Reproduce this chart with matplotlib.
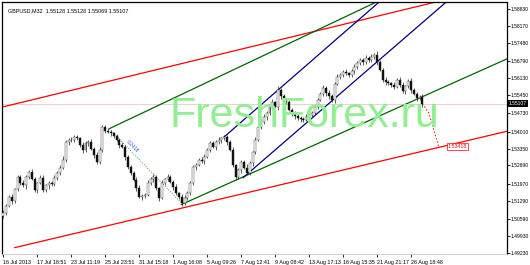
import numpy as np
import matplotlib
matplotlib.use("Agg")
import matplotlib.pyplot as plt
from matplotlib.transforms import blended_transform_factory

plt.rcParams['font.family'] = ['Liberation Sans', 'DejaVu Sans']

# ---------------- data ----------------
closes = [
    1.5083, 1.5110, 1.5146, 1.5130, 1.5175, 1.5224, 1.5200, 1.5190, 1.5225, 1.5244,
    1.5215, 1.5173, 1.5200, 1.5221, 1.5173, 1.5190, 1.5201, 1.5195, 1.5221, 1.5240,
    1.5260, 1.5291, 1.5362, 1.5370, 1.5369, 1.5381, 1.5375, 1.5350, 1.5330, 1.5355,
    1.5362, 1.5335, 1.5311, 1.5283, 1.5330, 1.5420, 1.5405, 1.5401, 1.5395, 1.5385,
    1.5370, 1.5350, 1.5342, 1.5300, 1.5264, 1.5240, 1.5213, 1.5180, 1.5146, 1.5150,
    1.5154, 1.5201, 1.5215, 1.5224, 1.5180, 1.5142, 1.5201, 1.5215, 1.5224, 1.5205,
    1.5185, 1.5160, 1.5146, 1.5122, 1.5140, 1.5162, 1.5200, 1.5264, 1.5270, 1.5290,
    1.5285, 1.5303, 1.5330, 1.5358, 1.5342, 1.5360, 1.5369, 1.5375, 1.5381, 1.5360,
    1.5330, 1.5270, 1.5224, 1.5250, 1.5283, 1.5260, 1.5240, 1.5279, 1.5320, 1.5369,
    1.5420, 1.5440, 1.5460, 1.5475, 1.5500, 1.5518, 1.5499, 1.5565, 1.5540, 1.5525,
    1.5518, 1.5487, 1.5470, 1.5462, 1.5456, 1.5450, 1.5448, 1.5460, 1.5467, 1.5475,
    1.5500, 1.5526, 1.5550, 1.5573, 1.5555, 1.5540, 1.5526, 1.5590, 1.5616, 1.5625,
    1.5636, 1.5630, 1.5624, 1.5640, 1.5656, 1.5670, 1.5683, 1.5675, 1.5690, 1.5683,
    1.5695, 1.5703, 1.5675, 1.5644, 1.5605, 1.5598, 1.5593, 1.5585, 1.5577, 1.5605,
    1.5585, 1.5560, 1.5580, 1.5600, 1.5565, 1.5550, 1.5534, 1.5538, 1.5511,
]
first_open = 1.5070

# wick lengths in pips
wick_up = [10, 6, 8, 12, 5, 9, 7, 11, 6, 8,
           10, 7, 5, 9, 12, 6, 8, 7, 10, 5,
           9, 14, 8, 6, 11, 7, 9, 5, 12, 8,
           6, 10, 7, 9, 13, 8, 6, 11, 7, 5,
           9, 8, 12, 6, 10, 7, 5, 9, 11, 8,
           6, 10, 7, 12, 8, 5, 9, 6, 11, 7,
           8, 10, 6, 9, 12, 7, 8, 5, 10, 6,
           11, 9, 7, 8, 6, 10, 12, 5, 9, 7,
           8, 11, 6, 10, 7, 9, 13, 8, 6, 10,
           7, 12, 9, 6, 8, 11, 5, 14, 7, 9,
           10, 6, 8, 12, 7, 5, 9, 11, 6, 8,
           10, 7, 9, 12, 6, 8, 11, 7, 10, 5,
           9, 13, 6, 8, 11, 7, 9, 6, 12, 8,
           10, 7, 14, 9, 6, 11, 8, 5, 10, 7,
           9, 12, 6, 8, 11, 7, 9, 6, 10]
wick_dn = [7, 9, 5, 11, 8, 6, 10, 7, 12, 9,
           5, 8, 11, 6, 9, 7, 13, 8, 6, 10,
           8, 6, 9, 12, 7, 10, 5, 8, 11, 7,
           9, 6, 12, 8, 7, 10, 9, 6, 11, 8,
           7, 12, 5, 9, 8, 10, 6, 11, 7, 13,
           9, 6, 8, 10, 7, 12, 5, 9, 8, 6,
           11, 7, 10, 14, 8, 6, 9, 7, 12, 5,
           8, 10, 7, 9, 6, 11, 8, 12, 7, 10,
           6, 9, 13, 8, 10, 7, 6, 9, 11, 8,
           5, 10, 7, 12, 8, 9, 6, 11, 10, 7,
           8, 6, 9, 12, 7, 10, 8, 5, 11, 9,
           7, 10, 6, 8, 12, 9, 7, 11, 6, 8,
           10, 5, 9, 7, 11, 8, 6, 12, 9, 10,
           7, 8, 11, 6, 9, 12, 7, 10, 8, 6,
           9, 7, 12, 8, 10, 6, 11, 9, 13]

# trendline anchors (bar index, price)
red_upper = [(0.0, 1.5499), (150.0, 1.5903)]
red_lower = [(4.0, 1.4946), (165.0, 1.5369)]
green_upper = [(37.4, 1.5413), (131.7, 1.5910)]
green_lower = [(62.8, 1.5115), (165.2, 1.5624)]
blue_upper = [(78.0, 1.5381), (132.7, 1.5910)]
blue_lower = [(84.7, 1.5221), (156.4, 1.5910)]
green_dotted = [(37.4, 1.5413), (62.8, 1.5122)]

forecast_x = [148, 150.3, 152.0, 153.8]
forecast_y = [1.5511, 1.5475, 1.5409, 1.5342]
forecast_label = "1.53418"

current_price = 1.55107
title_text = "GBPUSD,M32  1.55128 1.55128 1.55069 1.55107"

ytick_values = [1.58830, 1.58170, 1.57480, 1.56790, 1.56130, 1.55450, 1.54730,
                1.54010, 1.53350, 1.52690, 1.51970, 1.51290, 1.50590, 1.49930, 1.49230]
xtick_labels = ["16 Jul 2013", "17 Jul 18:51", "23 Jul 11:19", "25 Jul 23:51",
                "31 Jul 15:18", "1 Aug 16:08", "5 Aug 09:26", "7 Aug 12:41",
                "9 Aug 08:42", "13 Aug 17:13", "16 Aug 15:35", "21 Aug 21:17",
                "26 Aug 18:48"]
bars_per_label = 12

# ---------------- figure ----------------
W, H = 530, 265
fig = plt.figure(figsize=(W / 100, H / 100), dpi=100)
fig.patch.set_facecolor('white')
ax = fig.add_axes([2 / W, 11 / H, 505 / W, 252 / H])
ax.set_facecolor('white')

XMAX = 177.9
ax.set_xlim(-0.5, XMAX)
ax.set_ylim(1.4921, 1.59104)

n = len(closes)
x = np.arange(n)
c = np.array(closes)
o = np.concatenate([[first_open], c[:-1]])
hi = np.maximum(o, c) + np.array(wick_up) * 0.0001
lo = np.minimum(o, c) - np.array(wick_dn) * 0.0001

# watermark
fig.text(304 / W, 1 - 116 / H, "FreshForex.ru", fontsize=31, color='#93ee93',
         ha='center', va='center', family=['Liberation Sans', 'DejaVu Sans'], zorder=0)

# current price line
ax.axhline(current_price, color='#f3c6c6', lw=0.6, zorder=1)


def draw_line(anchors, x0, x1, **kw):
    (xa, ya), (xb, yb) = anchors
    s = (yb - ya) / (xb - xa)
    xs = np.array([x0, x1])
    ax.plot(xs, ya + s * (xs - xa), **kw)


draw_line(red_upper, -0.5, XMAX, color='#ff0000', lw=0.9, zorder=2)
draw_line(red_lower, red_lower[0][0], XMAX, color='#ff0000', lw=0.9, zorder=2)
draw_line(green_upper, green_upper[0][0], XMAX, color='#006400', lw=0.9, zorder=2)
draw_line(green_lower, green_lower[0][0], XMAX, color='#006400', lw=0.9, zorder=2)
draw_line(blue_upper, blue_upper[0][0], XMAX, color='#000080', lw=0.9, zorder=2)
draw_line(blue_lower, blue_lower[0][0], XMAX, color='#000080', lw=0.9, zorder=2)
gx = [p[0] for p in green_dotted]
gy = [p[1] for p in green_dotted]
ax.plot(gx, gy, color='#008000', lw=0.6, ls=(0, (1, 2)), zorder=2)
ax.text(45.5, 1.5345, "0.2418", fontsize=3.6, color='#3050d0', rotation=-45,
        ha='center', va='center', zorder=3)

# candles
ax.vlines(x, lo, hi, color='#202020', lw=0.5, zorder=4)
bull = c >= o
ax.bar(x[bull], (c - o)[bull], bottom=o[bull], width=0.7, color='white',
       edgecolor='#303030', linewidth=0.3, zorder=5)
ax.bar(x[~bull], (o - c)[~bull], bottom=c[~bull], width=0.7, color='#101010',
       edgecolor='#101010', linewidth=0.3, zorder=5)

# forecast
ax.plot(forecast_x, forecast_y, color='#ff0000', lw=0.7, ls=(0, (1.5, 2)), zorder=3)
ax.text(forecast_x[-1] + 3.2, forecast_y[-1], forecast_label, fontsize=3.8,
        color='#ff0000', ha='left', va='center', zorder=6,
        bbox=dict(boxstyle='square,pad=0.15', fc='white', ec='#ff0000', lw=0.5))

# title
ax.text(0.012, 0.975, title_text, transform=ax.transAxes, fontsize=3.9,
        color='black', ha='left', va='top')

# axes styling
for s in ['top', 'left', 'right']:
    ax.spines[s].set_color('black')
    ax.spines[s].set_linewidth(0.9)
ax.spines['bottom'].set_color('#c8c8c8')
ax.spines['bottom'].set_linewidth(0.6)
ax.spines['bottom'].set_linestyle((0, (1, 1)))

ax.yaxis.tick_right()
ax.set_yticks(ytick_values)
ax.set_yticklabels([f"{v:.5f}" for v in ytick_values])
ax.tick_params(axis='y', length=1.8, width=0.6, pad=1.0, labelsize=3.6, colors='black')

xt = np.arange(len(xtick_labels)) * bars_per_label
ax.set_xticks(xt)
ax.set_xticklabels(xtick_labels, ha='left')
ax.tick_params(axis='x', length=2.5, width=0.6, pad=1.5, labelsize=3.9, colors='black',
               direction='out')

# current price tag on axis
trans = blended_transform_factory(ax.transAxes, ax.transData)
ax.text(1.003, current_price, f"{current_price:.5f}", transform=trans, fontsize=3.6,
        color='white', ha='left', va='center', zorder=10, clip_on=False,
        bbox=dict(boxstyle='square,pad=0.2', fc='black', ec='black', lw=0))

fig.savefig("out.png", dpi=100, facecolor='white')
